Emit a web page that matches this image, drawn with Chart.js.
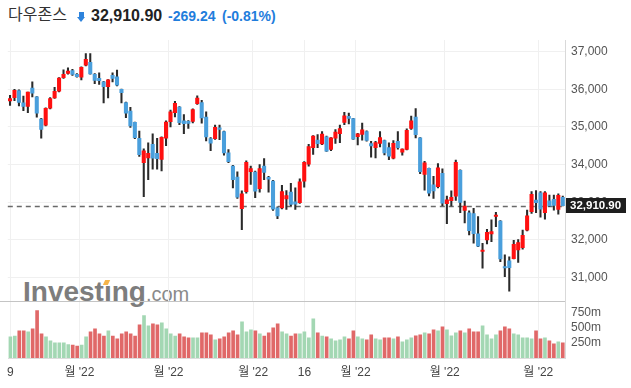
<!DOCTYPE html>
<html>
<head>
<meta charset="utf-8">
<script src="https://cdn.jsdelivr.net/npm/chart.js@4.4.1/dist/chart.umd.min.js"></script>
<style>
  body { margin: 0; width: 631px; height: 388px; background: #fff; overflow: hidden; position: relative; font-family: "Liberation Sans", Arial, sans-serif; }
  .abs { position: absolute; white-space: nowrap; }
  #name { left: 8px; top: 5px; font: 16px/16px "Noto Sans CJK KR", sans-serif; color: #333; }
  #arrowStem { left: 79px; top: 12px; width: 4.5px; height: 5px; background: #2d83dc; }
  #arrowHead { left: 76.5px; top: 17px; width: 0; height: 0; border-left: 4.8px solid transparent; border-right: 4.8px solid transparent; border-top: 5.5px solid #2d83dc; }
  #price { left: 91px; top: 7.5px; font: bold 16px/16px "Liberation Sans", Arial, sans-serif; color: #222; }
  #chg { left: 168px; top: 9px; font: bold 14px/14px "Liberation Sans", Arial, sans-serif; color: #1f7ddc; }
  #pct { left: 222px; top: 9px; font: bold 14px/14px "Liberation Sans", Arial, sans-serif; color: #1f7ddc; }
  #wm { left: 23px; top: 278px; font: bold 28px/28px "Liberation Sans", Arial, sans-serif; color: #7d7d7d; }
  #wm .com { font-weight: normal; font-size: 20px; color: #8a8a8a; }
  #wmMark { left: 104px; top: 280px; width: 5px; height: 5px; background: #f5b54a; transform: skewX(-25deg); }
  canvas { position: absolute; left: 0; }
  #priceChart { top: 26px; }
  #volChart { top: 287px; }
  #sep { left: 0; top: 301px; width: 565px; height: 1px; background: #c4c4c4; }
</style>
</head>
<body>
<div class="abs" id="name">다우존스</div>
<div class="abs" id="arrowStem"></div>
<div class="abs" id="arrowHead"></div>
<div class="abs" id="price">32,910.90</div>
<div class="abs" id="chg">-269.24</div>
<div class="abs" id="pct">(-0.81%)</div>
<div class="abs" id="wm">Investıng<span class="com">.com</span></div>
<div class="abs" id="wmMark"></div>
<canvas id="priceChart" width="631" height="289"></canvas>
<canvas id="volChart" width="631" height="101"></canvas>
<div class="abs" id="sep"></div>
<script>
// daily candles, 9 Dec 2021 .. 8 Jun 2022
const open = [
  35690, 35780, 35970, 35640, 35545, 36030, 35800, 35210, 35050, 35500,
  35770, 35950, 36310, 36420, 36500, 36400, 36320, 36640, 36720, 36400,
  36290, 36200, 36070, 36370, 36330, 36000, 35650, 35420, 35120, 34700,
  34050, 34180, 34540, 34300, 34140, 34700, 35140, 35380, 35530, 35160,
  35150, 35150, 35620, 35650, 35260, 34690, 34690, 34980, 34880, 34310,
  33960, 33670, 32830, 33280, 33810, 33800, 33360, 33960, 33660, 33560,
  32850, 32850, 33090, 33270, 33010, 32990, 33560, 34010, 34450, 34650,
  34550, 34740, 34400, 34700, 34820, 35120, 35280, 35220, 34740, 34800,
  34880, 34560, 34450, 34560, 34640, 34450, 34170, 34620, 34330, 34400,
  34960, 35260, 34710, 33740, 33900, 33460, 33410, 33770, 32960, 33040,
  33160, 33850, 32780, 32720, 32700, 32160, 31690, 32000, 32160, 32620,
  32500, 31290, 31440, 31500, 31730, 31790, 32260, 32750, 33060, 33250,
  32720, 33040, 33080, 32810, 33130
];
const high = [
  35840, 36000, 35990, 35820, 35930, 36200, 35810, 35230, 35510, 35780,
  36050, 36310, 36520, 36570, 36530, 36420, 36600, 36950, 36950, 36420,
  36440, 36210, 36260, 36440, 36510, 36010, 35660, 35520, 35130, 34890,
  34420, 34580, 34820, 34700, 34740, 35160, 35450, 35680, 35540, 35330,
  35170, 35480, 35830, 35710, 35400, 34720, 35050, 35050, 34890, 34400,
  33980, 33810, 33300, 34100, 33960, 33830, 34000, 34160, 33690, 33580,
  32880, 33450, 33310, 33500, 33380, 33620, 34080, 34540, 34770, 34800,
  34880, 34760, 34720, 34930, 35050, 35390, 35370, 35230, 34830, 35100,
  34900, 34620, 34620, 34880, 34650, 34580, 34640, 34880, 34420, 34950,
  35290, 35490, 34720, 34090, 33910, 33690, 34030, 33890, 33160, 33300,
  34120, 33860, 33030, 32770, 32840, 32620, 31910, 32280, 32530, 32730,
  32510, 31600, 31550, 31990, 32010, 32260, 32790, 33280, 33310, 33280,
  33280, 33190, 33190, 33220, 33160
];
const low = [
  35575, 35700, 35560, 35430, 35380, 35800, 35260, 34700, 35030, 35480,
  35760, 35930, 36290, 36400, 36370, 36320, 36250, 36620, 36400, 36150,
  36130, 35640, 35770, 36200, 36090, 35640, 35250, 34990, 34690, 34220,
  33150, 33600, 33880, 33880, 33830, 34500, 35000, 35270, 35060, 34820,
  34960, 35110, 35600, 35100, 34630, 34370, 34670, 34660, 34250, 34050,
  33380, 33100, 32272, 33240, 33470, 33120, 33270, 33600, 33270, 32780,
  32560, 32820, 32810, 32900, 32810, 32970, 33400, 33960, 34270, 34450,
  34530, 34350, 34370, 34560, 34580, 35060, 35080, 34670, 34520, 34650,
  34620, 34200, 34180, 34470, 34260, 34130, 34150, 34410, 34250, 34390,
  34935, 34710, 33760, 33320, 33170, 33100, 33380, 32910, 32430, 32900,
  33050, 32720, 32450, 32130, 31910, 31820, 31250, 31890, 31950, 32350,
  31420, 31020, 30636, 31490, 31400, 31750, 32240, 32700, 32720, 32600,
  32550, 32880, 32790, 32680, 32900
];
const close = [
  35754, 35971, 35650, 35545, 35927, 35898, 35365, 34932, 35493, 35754,
  35950, 36302, 36398, 36488, 36398, 36338, 36585, 36799, 36407, 36236,
  36231, 36068, 36252, 36290, 36113, 35912, 35369, 35029, 34715, 34265,
  34365, 34298, 34168, 34160, 34725, 35132, 35405, 35629, 35111, 35089,
  35091, 35463, 35768, 35241, 34738, 34566, 34988, 34934, 34312, 34079,
  33597, 33131, 33224, 34059, 33893, 33294, 33891, 33795, 33615, 32818,
  32633, 33286, 33174, 32944, 32945, 33545, 34063, 34481, 34755, 34553,
  34808, 34359, 34708, 34862, 34956, 35295, 35229, 34678, 34818, 34922,
  34641, 34497, 34583, 34721, 34309, 34221, 34565, 34451, 34412, 34911,
  35161, 34793, 33811, 34049, 33240, 33302, 33916, 32977, 33062, 33129,
  34061, 32998, 32899, 32246, 32161, 31834, 31730, 32197, 32223, 32655,
  31490, 31253, 31262, 31880, 31929, 32120, 32637, 33213, 32990, 32813,
  33248, 32900, 32916, 33180, 32910.9
];
// volume in millions
const volume = [
  348, 359, 447, 447, 430, 479, 781, 397, 348, 282,
  249, 249, 249, 222, 211, 195, 211, 348, 430, 479,
  397, 359, 447, 359, 315, 397, 430, 397, 359, 545,
  698, 529, 562, 545, 578, 479, 397, 359, 397, 348,
  332, 332, 332, 414, 414, 381, 299, 315, 348, 414,
  447, 381, 595, 430, 463, 447, 397, 359, 414, 496,
  562, 430, 397, 359, 397, 397, 430, 332, 644, 414,
  359, 348, 315, 282, 299, 348, 315, 447, 348, 315,
  299, 381, 315, 299, 332, 332, 315, 348, 266, 299,
  332, 364, 381, 414, 397, 463, 447, 512, 463, 364,
  414, 447, 414, 479, 430, 430, 529, 381, 315, 381,
  447, 512, 479, 397, 381, 332, 332, 315, 447, 315,
  332, 282, 233, 266, 249
];

// x axis: candle index where a label / grid line sits
const tickPos = [0, 15.5, 35.5, 54.5, 66, 77.5, 97.5, 118.5];
const tickLabels = ['9', "월 '22", "월 '22", "월 '22", '16', "월 '22", "월 '22", "월 '22"];
const priceTicks = [31000, 32000, 33000, 34000, 35000, 36000, 37000];
const volTicks = [250, 500, 750];

const UP = '#ff1010';
const DOWN = '#4a9fdc';
const VOL_UP = '#a3d7b3';
const VOL_DOWN = '#e06868';
const FONT = '"Liberation Sans", "Noto Sans CJK KR", Arial, sans-serif';

const isUp = close.map((c, i) => c >= open[i]);
const wicks = low.map((l, i) => ({ x: i, y: [l, high[i]] }));
const bodies = open.map((o, i) => ({ x: i, y: [o, close[i]] }));
const bars = volume.map((v, i) => ({ x: i, y: v }));
const lastClose = close[close.length - 1];

// dashed last-price line and the black price tag on the axis
const lastPricePlugin = {
    id: 'lastPrice',
    beforeDatasetsDraw(chart) {
        const { ctx, chartArea, scales } = chart;
        const py = Math.round(scales.y.getPixelForValue(lastClose)) + 0.5;
        ctx.save();
        ctx.strokeStyle = '#6a6a6a';
        ctx.lineWidth = 1.3;
        ctx.setLineDash([5, 4]);
        ctx.beginPath();
        ctx.moveTo(chartArea.left, py);
        ctx.lineTo(chartArea.right, py);
        ctx.stroke();
        ctx.restore();
    },
    afterDraw(chart) {
        const { ctx, chartArea, scales } = chart;
        const py = Math.round(scales.y.getPixelForValue(lastClose));
        ctx.save();
        ctx.fillStyle = '#1e1e1e';
        ctx.fillRect(chartArea.right + 1, py - 8, 60, 15);
        ctx.fillStyle = '#fff';
        ctx.font = 'bold 11.5px ' + FONT;
        ctx.textBaseline = 'middle';
        ctx.fillText(lastClose.toLocaleString('en-US', { minimumFractionDigits: 2 }), chartArea.right + 5, py);
        ctx.restore();
    }
};

const xScale = (withLabels) => ({
    type: 'linear',
    offset: false,
    min: -0.5,
    max: open.length - 0.5,
    afterBuildTicks: s => { s.ticks = tickPos.map(v => ({ value: v })); },
    ticks: {
        display: withLabels,
        autoSkip: false,
        maxRotation: 0,
        padding: 7,
        color: '#444',
        font: { size: 12, family: FONT },
        callback: (v, i) => tickLabels[i],
    },
    grid: { color: '#f0f0f0', drawTicks: false, offset: false },
    border: { display: withLabels, color: '#dcdcdc' },
    afterFit: s => { s.height = withLabels ? 30 : 0; },
});

new Chart(document.getElementById('priceChart'), {
    type: 'bar',
    data: {
        datasets: [
            {
                label: 'body',
                data: bodies,
                backgroundColor: isUp.map(u => u ? UP : DOWN),
                barThickness: 3.4,
                minBarLength: 1,
                grouped: false,
                borderWidth: 0,
                order: 0,
            },
            {
                label: 'wick',
                data: wicks,
                backgroundColor: '#2a2a2a',
                barThickness: 1.4,
                grouped: false,
                borderWidth: 0,
                order: 1,
            },
        ],
    },
    options: {
        responsive: false,
        animation: false,
        layout: { padding: { left: 7.8, top: 14, right: 0, bottom: 14 } },
        plugins: { legend: { display: false }, tooltip: { enabled: false } },
        scales: {
            x: xScale(false),
            y: {
                position: 'right',
                min: 30375,
                max: 37311,
                afterBuildTicks: s => { s.ticks = priceTicks.map(v => ({ value: v })); },
                ticks: {
                    padding: 6,
                    color: '#555',
                    font: { size: 12, family: FONT },
                    callback: v => v.toLocaleString('en-US'),
                },
                grid: { color: '#f0f0f0', drawTicks: false },
                border: { color: '#d9d9d9' },
                afterFit: s => { s.width = 66; },
            },
        },
    },
    plugins: [lastPricePlugin],
});

new Chart(document.getElementById('volChart'), {
    type: 'bar',
    data: {
        datasets: [{
            label: 'volume',
            data: bars,
            backgroundColor: isUp.map(u => u ? VOL_UP : VOL_DOWN),
            barThickness: 3,
            borderWidth: 0,
        }],
    },
    options: {
        responsive: false,
        animation: false,
        layout: { padding: { left: 7.8, top: 14, right: 0, bottom: 0 } },
        plugins: { legend: { display: false }, tooltip: { enabled: false } },
        scales: {
            x: xScale(true),
            y: {
                position: 'right',
                min: 0,
                max: 937,
                afterBuildTicks: s => { s.ticks = volTicks.map(v => ({ value: v })); },
                ticks: {
                    padding: 6,
                    color: '#555',
                    font: { size: 12, family: FONT },
                    callback: v => v + 'm',
                },
                grid: { display: false, drawTicks: false },
                border: { color: '#d9d9d9' },
                afterFit: s => { s.width = 66; },
            },
        },
    },
});
</script>
</body>
</html>
